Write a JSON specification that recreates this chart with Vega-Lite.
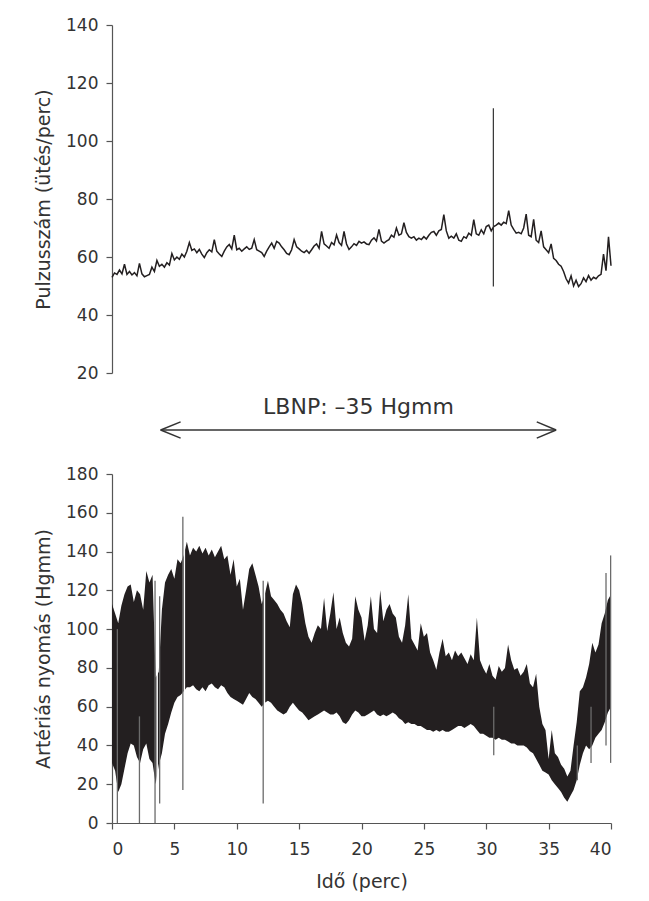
{
  "$schema": "https://vega.github.io/schema/vega-lite/v6.json",
  "padding": {"left": 34, "top": 16, "right": 20, "bottom": 5},
  "bounds": "flush",
  "spacing": 101,
  "background": "white",
  "config": {
    "view": {"stroke": null},
    "font": "DejaVu Sans",
    "axis": {
      "grid": false,
      "domainColor": "#555555",
      "tickColor": "#555555",
      "domainWidth": 1.2,
      "tickWidth": 1.2,
      "tickSize": 6,
      "labelColor": "#333333",
      "titleColor": "#333333",
      "labelFont": "DejaVu Sans",
      "titleFont": "DejaVu Sans",
      "labelFontSize": 17,
      "titleFontSize": 19,
      "titleFontWeight": "normal",
      "labelPadding": 8,
      "labelOverlap": false
    }
  },
  "datasets": {
    "pulse": [
      {"t":0.0,"p":53.0},{"t":0.2,"p":54.5},{"t":0.4,"p":54.0},{"t":0.6,"p":55.5},{"t":0.8,"p":54.2},
      {"t":1.0,"p":57.5},{"t":1.2,"p":54.0},{"t":1.4,"p":55.0},{"t":1.6,"p":53.8},{"t":1.8,"p":54.6},
      {"t":2.0,"p":53.5},{"t":2.2,"p":57.8},{"t":2.4,"p":54.2},{"t":2.6,"p":53.2},{"t":2.8,"p":53.6},
      {"t":3.0,"p":54.0},{"t":3.2,"p":56.5},{"t":3.4,"p":55.0},{"t":3.6,"p":58.8},{"t":3.8,"p":56.8},
      {"t":4.0,"p":57.5},{"t":4.2,"p":56.5},{"t":4.4,"p":58.0},{"t":4.6,"p":57.2},{"t":4.8,"p":61.2},
      {"t":5.0,"p":59.0},{"t":5.2,"p":60.0},{"t":5.4,"p":59.2},{"t":5.6,"p":61.0},{"t":5.8,"p":60.0},
      {"t":6.0,"p":62.0},{"t":6.2,"p":65.0},{"t":6.4,"p":62.3},{"t":6.6,"p":62.8},{"t":6.8,"p":61.5},
      {"t":7.0,"p":62.6},{"t":7.2,"p":61.0},{"t":7.4,"p":59.8},{"t":7.6,"p":61.5},{"t":7.8,"p":62.5},
      {"t":8.0,"p":61.8},{"t":8.2,"p":66.0},{"t":8.4,"p":62.0},{"t":8.6,"p":61.0},{"t":8.8,"p":60.2},
      {"t":9.0,"p":62.0},{"t":9.2,"p":63.5},{"t":9.4,"p":64.3},{"t":9.6,"p":62.8},{"t":9.8,"p":67.5},
      {"t":10.0,"p":62.5},{"t":10.2,"p":63.0},{"t":10.4,"p":62.0},{"t":10.6,"p":62.8},{"t":10.8,"p":63.5},
      {"t":11.0,"p":62.6},{"t":11.2,"p":63.0},{"t":11.4,"p":66.0},{"t":11.6,"p":62.5},{"t":11.8,"p":62.0},
      {"t":12.0,"p":61.5},{"t":12.2,"p":60.2},{"t":12.4,"p":62.0},{"t":12.6,"p":63.5},{"t":12.8,"p":64.8},
      {"t":13.0,"p":63.0},{"t":13.2,"p":65.4},{"t":13.4,"p":64.8},{"t":13.6,"p":63.5},{"t":13.8,"p":62.5},
      {"t":14.0,"p":61.2},{"t":14.2,"p":60.8},{"t":14.4,"p":62.5},{"t":14.6,"p":66.0},{"t":14.8,"p":63.5},
      {"t":15.0,"p":62.8},{"t":15.2,"p":62.0},{"t":15.4,"p":61.5},{"t":15.6,"p":62.3},{"t":15.8,"p":61.3},
      {"t":16.0,"p":62.5},{"t":16.2,"p":63.8},{"t":16.4,"p":64.5},{"t":16.6,"p":63.0},{"t":16.8,"p":68.8},
      {"t":17.0,"p":64.5},{"t":17.2,"p":63.8},{"t":17.4,"p":63.0},{"t":17.6,"p":65.0},{"t":17.8,"p":64.2},
      {"t":18.0,"p":67.6},{"t":18.2,"p":65.0},{"t":18.4,"p":64.0},{"t":18.6,"p":68.8},{"t":18.8,"p":64.5},
      {"t":19.0,"p":62.6},{"t":19.2,"p":63.5},{"t":19.4,"p":64.6},{"t":19.6,"p":64.0},{"t":19.8,"p":65.4},
      {"t":20.0,"p":64.8},{"t":20.2,"p":65.2},{"t":20.4,"p":64.5},{"t":20.6,"p":64.3},{"t":20.8,"p":65.8},
      {"t":21.0,"p":66.6},{"t":21.2,"p":65.5},{"t":21.4,"p":69.5},{"t":21.6,"p":65.5},{"t":21.8,"p":64.8},
      {"t":22.0,"p":65.5},{"t":22.2,"p":66.0},{"t":22.4,"p":67.5},{"t":22.6,"p":66.8},{"t":22.8,"p":70.0},
      {"t":23.0,"p":67.5},{"t":23.2,"p":68.0},{"t":23.4,"p":71.8},{"t":23.6,"p":68.5},{"t":23.8,"p":67.0},
      {"t":24.0,"p":66.5},{"t":24.2,"p":67.0},{"t":24.4,"p":65.8},{"t":24.6,"p":66.5},{"t":24.8,"p":66.0},
      {"t":25.0,"p":67.0},{"t":25.2,"p":66.2},{"t":25.4,"p":67.5},{"t":25.6,"p":68.5},{"t":25.8,"p":68.8},
      {"t":26.0,"p":67.5},{"t":26.2,"p":69.0},{"t":26.4,"p":69.5},{"t":26.6,"p":74.6},{"t":26.8,"p":69.0},
      {"t":27.0,"p":66.5},{"t":27.2,"p":67.2},{"t":27.4,"p":66.5},{"t":27.6,"p":68.0},{"t":27.8,"p":65.8},
      {"t":28.0,"p":65.4},{"t":28.2,"p":67.0},{"t":28.4,"p":66.5},{"t":28.6,"p":68.2},{"t":28.8,"p":67.5},
      {"t":29.0,"p":72.9},{"t":29.2,"p":68.0},{"t":29.4,"p":67.5},{"t":29.6,"p":69.4},{"t":29.8,"p":68.0},
      {"t":30.0,"p":70.5},{"t":30.2,"p":71.0},{"t":30.4,"p":69.0},{"t":30.6,"p":70.5},{"t":30.8,"p":71.0},
      {"t":31.0,"p":71.7},{"t":31.2,"p":71.0},{"t":31.4,"p":72.0},{"t":31.6,"p":71.5},{"t":31.8,"p":76.0},
      {"t":32.0,"p":71.0},{"t":32.2,"p":69.5},{"t":32.4,"p":68.2},{"t":32.6,"p":68.5},{"t":32.8,"p":68.0},
      {"t":33.0,"p":70.0},{"t":33.2,"p":74.8},{"t":33.4,"p":67.5},{"t":33.6,"p":67.0},{"t":33.8,"p":73.0},
      {"t":34.0,"p":65.8},{"t":34.2,"p":65.0},{"t":34.4,"p":69.0},{"t":34.6,"p":63.5},{"t":34.8,"p":62.5},
      {"t":35.0,"p":61.5},{"t":35.2,"p":64.5},{"t":35.4,"p":59.5},{"t":35.6,"p":58.8},{"t":35.8,"p":57.5},
      {"t":36.0,"p":56.8},{"t":36.2,"p":55.0},{"t":36.4,"p":52.5},{"t":36.6,"p":51.0},{"t":36.8,"p":53.5},
      {"t":37.0,"p":50.0},{"t":37.2,"p":52.0},{"t":37.4,"p":49.8},{"t":37.6,"p":50.8},{"t":37.8,"p":52.8},
      {"t":38.0,"p":51.5},{"t":38.2,"p":53.6},{"t":38.4,"p":52.0},{"t":38.6,"p":53.0},{"t":38.8,"p":52.5},
      {"t":39.0,"p":53.5},{"t":39.2,"p":54.0},{"t":39.4,"p":61.0},{"t":39.6,"p":55.3},{"t":39.8,"p":67.0},
      {"t":40.0,"p":57.0}
    ],
    "pulseSpike": [{"t":30.57,"lo":49.8,"hi":111.3}],
    "press": [
      {"t":0.00,"hi":113,"lo":31},{"t":0.25,"hi":108,"lo":27},{"t":0.50,"hi":103,"lo":16},{"t":0.75,"hi":112,"lo":20},
      {"t":1.00,"hi":118,"lo":28},{"t":1.25,"hi":122,"lo":36},{"t":1.50,"hi":123,"lo":41},{"t":1.75,"hi":114,"lo":40},
      {"t":2.00,"hi":120,"lo":34},{"t":2.25,"hi":118,"lo":31},{"t":2.50,"hi":110,"lo":38},{"t":2.75,"hi":130,"lo":41},
      {"t":3.00,"hi":124,"lo":33},{"t":3.25,"hi":128,"lo":31},{"t":3.50,"hi":75,"lo":20},{"t":3.75,"hi":78,"lo":30},
      {"t":4.00,"hi":110,"lo":36},{"t":4.25,"hi":124,"lo":46},{"t":4.50,"hi":128,"lo":51},{"t":4.75,"hi":131,"lo":57},
      {"t":5.00,"hi":126,"lo":62},{"t":5.25,"hi":136,"lo":65},{"t":5.50,"hi":134,"lo":66},{"t":5.75,"hi":138,"lo":68},
      {"t":6.00,"hi":145,"lo":70},{"t":6.25,"hi":138,"lo":70},{"t":6.50,"hi":142,"lo":71},{"t":6.75,"hi":140,"lo":69},
      {"t":7.00,"hi":143,"lo":68},{"t":7.25,"hi":139,"lo":70},{"t":7.50,"hi":142,"lo":68},{"t":7.75,"hi":138,"lo":71},
      {"t":8.00,"hi":141,"lo":72},{"t":8.25,"hi":137,"lo":70},{"t":8.50,"hi":140,"lo":69},{"t":8.75,"hi":143,"lo":71},
      {"t":9.00,"hi":136,"lo":70},{"t":9.25,"hi":138,"lo":67},{"t":9.50,"hi":128,"lo":65},{"t":9.75,"hi":136,"lo":64},
      {"t":10.00,"hi":122,"lo":63},{"t":10.25,"hi":126,"lo":62},{"t":10.50,"hi":110,"lo":61},{"t":10.75,"hi":120,"lo":64},
      {"t":11.00,"hi":131,"lo":67},{"t":11.25,"hi":134,"lo":65},{"t":11.50,"hi":128,"lo":64},{"t":11.75,"hi":122,"lo":62},
      {"t":12.00,"hi":113,"lo":60},{"t":12.25,"hi":118,"lo":62},{"t":12.50,"hi":125,"lo":63},{"t":12.75,"hi":117,"lo":62},
      {"t":13.00,"hi":115,"lo":60},{"t":13.25,"hi":113,"lo":58},{"t":13.50,"hi":110,"lo":57},{"t":13.75,"hi":108,"lo":56},
      {"t":14.00,"hi":104,"lo":57},{"t":14.25,"hi":101,"lo":60},{"t":14.50,"hi":118,"lo":62},{"t":14.75,"hi":123,"lo":60},
      {"t":15.00,"hi":120,"lo":58},{"t":15.25,"hi":113,"lo":57},{"t":15.50,"hi":103,"lo":55},{"t":15.75,"hi":96,"lo":53},
      {"t":16.00,"hi":93,"lo":54},{"t":16.25,"hi":98,"lo":55},{"t":16.50,"hi":102,"lo":56},{"t":16.75,"hi":100,"lo":57},
      {"t":17.00,"hi":116,"lo":58},{"t":17.25,"hi":99,"lo":57},{"t":17.50,"hi":108,"lo":56},{"t":17.75,"hi":119,"lo":56},
      {"t":18.00,"hi":100,"lo":57},{"t":18.25,"hi":106,"lo":55},{"t":18.50,"hi":98,"lo":52},{"t":18.75,"hi":93,"lo":51},
      {"t":19.00,"hi":91,"lo":53},{"t":19.25,"hi":95,"lo":56},{"t":19.50,"hi":117,"lo":58},{"t":19.75,"hi":110,"lo":57},
      {"t":20.00,"hi":106,"lo":55},{"t":20.25,"hi":94,"lo":55},{"t":20.50,"hi":102,"lo":56},{"t":20.75,"hi":117,"lo":57},
      {"t":21.00,"hi":100,"lo":58},{"t":21.25,"hi":98,"lo":56},{"t":21.50,"hi":120,"lo":55},{"t":21.75,"hi":104,"lo":56},
      {"t":22.00,"hi":110,"lo":55},{"t":22.25,"hi":113,"lo":56},{"t":22.50,"hi":108,"lo":57},{"t":22.75,"hi":106,"lo":56},
      {"t":23.00,"hi":96,"lo":54},{"t":23.25,"hi":93,"lo":53},{"t":23.50,"hi":102,"lo":51},{"t":23.75,"hi":118,"lo":52},
      {"t":24.00,"hi":95,"lo":51},{"t":24.25,"hi":92,"lo":51},{"t":24.50,"hi":89,"lo":50},{"t":24.75,"hi":103,"lo":50},
      {"t":25.00,"hi":96,"lo":49},{"t":25.25,"hi":98,"lo":48},{"t":25.50,"hi":88,"lo":48},{"t":25.75,"hi":84,"lo":47},
      {"t":26.00,"hi":79,"lo":48},{"t":26.25,"hi":88,"lo":47},{"t":26.50,"hi":95,"lo":48},{"t":26.75,"hi":86,"lo":47},
      {"t":27.00,"hi":88,"lo":47},{"t":27.25,"hi":84,"lo":48},{"t":27.50,"hi":89,"lo":49},{"t":27.75,"hi":86,"lo":50},
      {"t":28.00,"hi":88,"lo":50},{"t":28.25,"hi":85,"lo":49},{"t":28.50,"hi":82,"lo":50},{"t":28.75,"hi":87,"lo":51},
      {"t":29.00,"hi":84,"lo":50},{"t":29.25,"hi":106,"lo":48},{"t":29.50,"hi":84,"lo":46},{"t":29.75,"hi":80,"lo":46},
      {"t":30.00,"hi":77,"lo":45},{"t":30.25,"hi":82,"lo":44},{"t":30.50,"hi":76,"lo":44},{"t":30.75,"hi":74,"lo":43},
      {"t":31.00,"hi":81,"lo":44},{"t":31.25,"hi":78,"lo":43},{"t":31.50,"hi":80,"lo":43},{"t":31.75,"hi":92,"lo":42},
      {"t":32.00,"hi":84,"lo":41},{"t":32.25,"hi":79,"lo":41},{"t":32.50,"hi":80,"lo":40},{"t":32.75,"hi":76,"lo":40},
      {"t":33.00,"hi":78,"lo":40},{"t":33.25,"hi":82,"lo":39},{"t":33.50,"hi":72,"lo":37},{"t":33.75,"hi":70,"lo":36},
      {"t":34.00,"hi":77,"lo":33},{"t":34.25,"hi":60,"lo":30},{"t":34.50,"hi":51,"lo":27},{"t":34.75,"hi":48,"lo":26},
      {"t":35.00,"hi":33,"lo":25},{"t":35.25,"hi":48,"lo":22},{"t":35.50,"hi":36,"lo":20},{"t":35.75,"hi":34,"lo":18},
      {"t":36.00,"hi":30,"lo":16},{"t":36.25,"hi":28,"lo":13},{"t":36.50,"hi":24,"lo":11},{"t":36.75,"hi":27,"lo":14},
      {"t":37.00,"hi":40,"lo":17},{"t":37.25,"hi":52,"lo":22},{"t":37.50,"hi":68,"lo":30},{"t":37.75,"hi":70,"lo":36},
      {"t":38.00,"hi":75,"lo":40},{"t":38.25,"hi":82,"lo":38},{"t":38.50,"hi":93,"lo":40},{"t":38.75,"hi":88,"lo":44},
      {"t":39.00,"hi":92,"lo":46},{"t":39.25,"hi":103,"lo":48},{"t":39.50,"hi":108,"lo":52},{"t":39.75,"hi":115,"lo":57},
      {"t":40.00,"hi":118,"lo":60}
    ],
    "gaps": [
      {"t":3.62,"lo":16,"hi":128},
      {"t":5.8,"lo":20,"hi":146},
      {"t":12.22,"lo":14,"hi":122}
    ],
    "spikes": [
      {"t":0.43,"lo":0,"hi":100},
      {"t":2.2,"lo":0,"hi":55},
      {"t":3.45,"lo":0,"hi":125},
      {"t":3.82,"lo":10,"hi":117},
      {"t":5.68,"lo":17,"hi":158},
      {"t":12.12,"lo":10,"hi":125},
      {"t":30.6,"lo":35,"hi":60},
      {"t":37.3,"lo":22,"hi":40},
      {"t":38.4,"lo":31,"hi":60},
      {"t":39.6,"lo":40,"hi":129},
      {"t":39.97,"lo":31,"hi":138}
    ],
    "arrow": [
      {"x1":3.9,"x2":35.6,"y1":202.7,"y2":202.7},
      {"x1":3.9,"x2":5.5,"y1":202.7,"y2":206.9},
      {"x1":3.9,"x2":5.5,"y1":202.7,"y2":198.5},
      {"x1":35.6,"x2":34.05,"y1":202.7,"y2":206.9},
      {"x1":35.6,"x2":34.05,"y1":202.7,"y2":198.5}
    ],
    "label": [{"t":19.76,"y":211,"text":"LBNP: –35 Hgmm"}]
  },
  "vconcat": [
    {
      "width": 499,
      "height": 348,
      "layer": [
        {
          "data": {"name": "pulse"},
          "mark": {"type": "line", "color": "#231f20", "strokeWidth": 1.5},
          "encoding": {
            "x": {"field": "t", "type": "quantitative", "scale": {"domain": [0, 40], "nice": false}, "axis": null},
            "y": {"field": "p", "type": "quantitative", "title": "Pulzusszám (ütés/perc)",
                  "scale": {"domain": [20, 140], "nice": false, "zero": false},
                  "axis": {"values": [20, 40, 60, 80, 100, 120, 140], "titlePadding": 12}}
          }
        },
        {
          "data": {"name": "pulseSpike"},
          "mark": {"type": "rule", "color": "#333333", "strokeWidth": 1.2},
          "encoding": {
            "x": {"field": "t", "type": "quantitative", "axis": null},
            "y": {"field": "lo", "type": "quantitative", "title": "Pulzusszám (ütés/perc)",
                  "axis": {"values": [20, 40, 60, 80, 100, 120, 140], "titlePadding": 12}},
            "y2": {"field": "hi"}
          }
        }
      ]
    },
    {
      "width": 499,
      "height": 349,
      "layer": [
        {
          "data": {"name": "press"},
          "mark": {"type": "area", "color": "#231f20", "opacity": 1},
          "encoding": {
            "x": {"field": "t", "type": "quantitative", "title": "Idő (perc)",
                  "scale": {"domain": [0, 40], "nice": false},
                  "axis": {"values": [0, 5, 10, 15, 20, 25, 30, 35, 40], "labelPadding": 12, "titlePadding": 15}},
            "y": {"field": "lo", "type": "quantitative", "title": "Artériás nyomás (Hgmm)",
                  "scale": {"domain": [0, 180], "nice": false},
                  "axis": {"values": [0, 20, 40, 60, 80, 100, 120, 140, 160, 180], "titlePadding": 12, "labelOverlap": false}},
            "y2": {"field": "hi"}
          }
        },
        {
          "data": {"name": "gaps"},
          "mark": {"type": "rule", "color": "#ffffff", "strokeWidth": 1.5},
          "encoding": {
            "x": {"field": "t", "type": "quantitative", "title": "Idő (perc)",
                  "axis": {"values": [0, 5, 10, 15, 20, 25, 30, 35, 40], "labelPadding": 12, "titlePadding": 15}},
            "y": {"field": "lo", "type": "quantitative", "title": "Artériás nyomás (Hgmm)",
                  "axis": {"values": [0, 20, 40, 60, 80, 100, 120, 140, 160, 180], "titlePadding": 12, "labelOverlap": false}},
            "y2": {"field": "hi"}
          }
        },
        {
          "data": {"name": "spikes"},
          "mark": {"type": "rule", "color": "#6b6b6b", "strokeWidth": 1.3},
          "encoding": {
            "x": {"field": "t", "type": "quantitative", "title": "Idő (perc)",
                  "axis": {"values": [0, 5, 10, 15, 20, 25, 30, 35, 40], "labelPadding": 12, "titlePadding": 15}},
            "y": {"field": "lo", "type": "quantitative", "title": "Artériás nyomás (Hgmm)",
                  "axis": {"values": [0, 20, 40, 60, 80, 100, 120, 140, 160, 180], "titlePadding": 12, "labelOverlap": false}},
            "y2": {"field": "hi"}
          }
        },
        {
          "data": {"name": "arrow"},
          "mark": {"type": "rule", "color": "#333333", "strokeWidth": 1.5},
          "encoding": {
            "x": {"field": "x1", "type": "quantitative", "title": "Idő (perc)",
                  "axis": {"values": [0, 5, 10, 15, 20, 25, 30, 35, 40], "labelPadding": 12, "titlePadding": 15}},
            "x2": {"field": "x2"},
            "y": {"field": "y1", "type": "quantitative", "title": "Artériás nyomás (Hgmm)",
                  "axis": {"values": [0, 20, 40, 60, 80, 100, 120, 140, 160, 180], "titlePadding": 12, "labelOverlap": false}},
            "y2": {"field": "y2"}
          }
        },
        {
          "data": {"name": "label"},
          "mark": {"type": "text", "font": "DejaVu Sans", "fontSize": 22, "color": "#333333", "align": "center", "baseline": "alphabetic"},
          "encoding": {
            "x": {"field": "t", "type": "quantitative", "title": "Idő (perc)",
                  "axis": {"values": [0, 5, 10, 15, 20, 25, 30, 35, 40], "labelPadding": 12, "titlePadding": 15}},
            "y": {"field": "y", "type": "quantitative", "title": "Artériás nyomás (Hgmm)",
                  "axis": {"values": [0, 20, 40, 60, 80, 100, 120, 140, 160, 180], "titlePadding": 12, "labelOverlap": false}},
            "text": {"field": "text"}
          }
        }
      ]
    }
  ]
}
